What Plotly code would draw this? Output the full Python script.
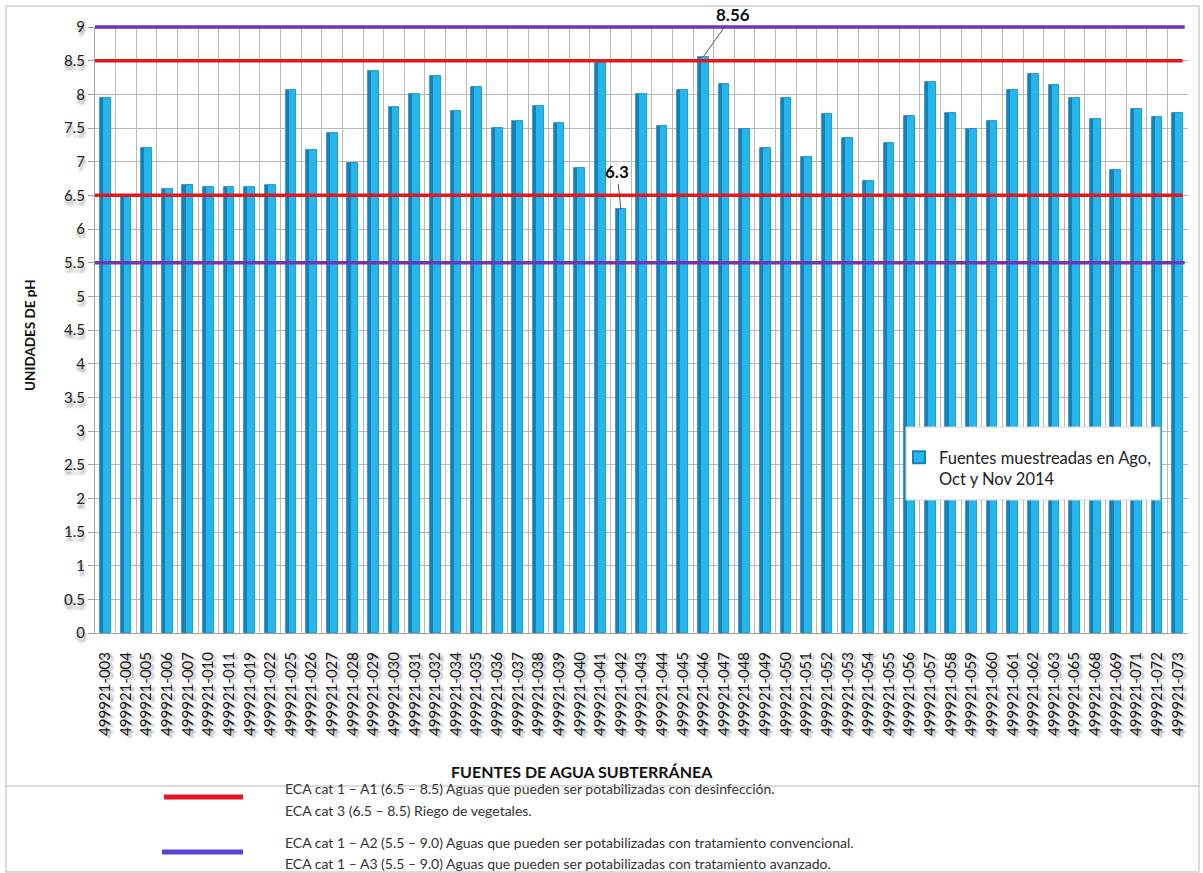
import plotly.graph_objects as go

# Groundwater sources sampled (code suffixes after 499921-)
codes = ["003", "004", "005", "006", "007", "010", "011", "019", "022", "025",
         "026", "027", "028", "029", "030", "031", "032", "034", "035", "036",
         "037", "038", "039", "040", "041", "042", "043", "044", "045", "046",
         "047", "048", "049", "050", "051", "052", "053", "054", "055", "056",
         "057", "058", "059", "060", "061", "062", "063", "065", "068", "069",
         "071", "072", "073"]
sources = ["499921-" + c for c in codes]

ph = [7.95, 6.48, 7.20, 6.60, 6.65, 6.63, 6.63, 6.63, 6.65, 8.06,
      7.17, 7.42, 6.98, 8.35, 7.81, 8.01, 8.27, 7.75, 8.11, 7.50,
      7.60, 7.83, 7.58, 6.90, 8.46, 6.30, 8.00, 7.53, 8.07, 8.56,
      8.15, 7.48, 7.20, 7.95, 7.07, 7.71, 7.35, 6.72, 7.27, 7.68,
      8.18, 7.72, 7.48, 7.61, 8.07, 8.30, 8.14, 7.95, 7.63, 6.87,
      7.78, 7.66, 7.72]

# ECA limits
eca_a1_limits = [6.5, 8.5]      # cat 1 A1 / cat 3
eca_a2a3_limits = [5.5, 9.0]    # cat 1 A2 / A3
labelled_sources = ["499921-046", "499921-042"]

y_range = [0, 9]
y_ticks = [i * 0.5 for i in range(19)]
y_tick_text = [("%g" % v) for v in y_ticks]

legend_a1 = ["ECA cat 1 \u2013 A1 (6.5 \u2013 8.5) Aguas que pueden ser potabilizadas con desinfección.",
             "ECA cat 3 (6.5 \u2013 8.5) Riego de vegetales."]
legend_a2a3 = ["ECA cat 1 \u2013 A2 (5.5 \u2013 9.0) Aguas que pueden ser potabilizadas con tratamiento convencional.",
               "ECA cat 1 \u2013 A3 (5.5 \u2013 9.0) Aguas que pueden ser potabilizadas con tratamiento avanzado."]

RED = "#e3171f"
PURPLE = "#7035b4"
BAR = "#25b6ec"
BAR_DARK = "#1681b8"
FONT = "Lato"

# plot-area geometry in pixels, used to place page-level decorations
L, R, T, B = 95, 1188, 27, 633
W, H = R - L, B - T


def px(x):
    return (x - L) / W


def py(y):
    return (B - y) / H


def yfrac(v):
    # position of a pH value as a fraction of the plot height
    return (v - y_range[0]) / (y_range[1] - y_range[0])


fig = go.Figure()

fig.add_trace(go.Bar(
    x=sources, y=ph, name="Fuentes muestreadas en Ago,<br>Oct y Nov 2014",
    width=0.52, offset=-0.26,
    marker=dict(color=BAR, line=dict(color=BAR_DARK, width=0.8)),
    showlegend=True,
))
# darker left side of each column for a rounded look
fig.add_trace(go.Bar(
    x=sources, y=ph, width=0.15, offset=-0.26,
    marker=dict(color=BAR_DARK, line=dict(width=0)),
    showlegend=False, hoverinfo="skip",
))

shapes = []
for v in eca_a1_limits:
    shapes.append(dict(type="line", xref="paper", yref="paper", x0=0, x1=0.995,
                       y0=yfrac(v), y1=yfrac(v),
                       line=dict(color=RED, width=3.5), layer="above"))
for v in eca_a2a3_limits:
    shapes.append(dict(type="line", xref="paper", yref="paper", x0=0, x1=0.997,
                       y0=yfrac(v), y1=yfrac(v),
                       line=dict(color=PURPLE, width=3.5), layer="above"))

# outer frame and separator of the explanatory key
shapes.append(dict(type="rect", xref="paper", yref="paper", x0=px(6), x1=px(1199),
                   y0=py(872), y1=py(6), line=dict(color="#d0d0d0", width=1.5), layer="below"))
shapes.append(dict(type="line", xref="paper", yref="paper", x0=px(6), x1=px(1199),
                   y0=py(786), y1=py(786), line=dict(color="#d0d0d0", width=1.5)))
# key swatches
shapes.append(dict(type="line", xref="paper", yref="paper", x0=px(164), x1=px(243),
                   y0=py(797), y1=py(797), line=dict(color=RED, width=5)))
shapes.append(dict(type="line", xref="paper", yref="paper", x0=px(162), x1=px(243),
                   y0=py(852), y1=py(852), line=dict(color="#5b40d6", width=5)))
# white panel behind the series legend
shapes.append(dict(type="rect", xref="paper", yref="paper", x0=px(906), x1=px(1160),
                   y0=py(500), y1=py(427), fillcolor="white",
                   line=dict(color="#d6d6d6", width=1), layer="above"))

annotations = []
# value call-outs
i46 = sources.index(labelled_sources[0])
annotations.append(dict(x=sources[i46], y=ph[i46], xref="x", yref="y", text="<b>%g</b>" % ph[i46],
                        showarrow=True, arrowhead=0, arrowwidth=1, arrowcolor="#555555",
                        ax=30, ay=-42, font=dict(family=FONT, size=17, color="#111111")))
i42 = sources.index(labelled_sources[1])
annotations.append(dict(x=sources[i42], y=ph[i42], xref="x", yref="y", text="<b>%g</b>" % ph[i42],
                        showarrow=True, arrowhead=0, arrowwidth=1, arrowcolor="#555555",
                        ax=-4, ay=-37, font=dict(family=FONT, size=17, color="#111111")))

# axis titles
annotations.append(dict(x=px(30), y=py(335), xref="paper", yref="paper", text="<b>UNIDADES DE pH</b>",
                        textangle=-90, xanchor="center", yanchor="middle", showarrow=False,
                        font=dict(family=FONT, size=13.5, color="#111111")))
annotations.append(dict(x=px(582), y=py(771), xref="paper", yref="paper",
                        text="<b>FUENTES DE AGUA SUBTERRÁNEA</b>", xanchor="center", yanchor="middle",
                        showarrow=False, font=dict(family=FONT, size=16, color="#111111")))

# key text
for txt, yy in zip(legend_a1 + legend_a2a3, [788, 810, 842, 864]):
    annotations.append(dict(x=px(283), y=py(yy), xref="paper", yref="paper", text=txt,
                            xanchor="left", yanchor="middle", showarrow=False,
                            font=dict(family=FONT, size=14, color="#333333")))

fig.update_layout(
    width=1203, height=873,
    margin=dict(l=L, r=1203 - R, t=T, b=873 - B),
    paper_bgcolor="white", plot_bgcolor="white",
    barmode="overlay", bargap=0,
    shapes=shapes, annotations=annotations,
    showlegend=True,
    legend=dict(x=px(899), y=py(440), xanchor="left", yanchor="top",
                bgcolor="rgba(0,0,0,0)", borderwidth=0,
                font=dict(family=FONT, size=16.5, color="#222222"), valign="top",
                itemsizing="constant"),
    xaxis=dict(type="category", tickson="boundaries", showgrid=True, gridcolor="#b9b9b9",
               gridwidth=1, tickangle=-90, ticks="", ticklabelstandoff=12,
               tickfont=dict(family=FONT, size=15, color="#111111",
                             shadow="-2px 3px 2px rgba(0,0,0,0.35)"),
               showline=True, linecolor="#a0a0a0", mirror=False, range=[-0.5, len(sources) - 0.5]),
    yaxis=dict(range=y_range, tickvals=y_ticks, ticktext=y_tick_text, showgrid=True,
               gridcolor="#b9b9b9", gridwidth=1, ticks="outside", ticklen=6, tickcolor="#a0a0a0",
               tickfont=dict(family=FONT, size=15, color="#222222",
                             shadow="1px 4px 3px rgba(0,0,0,0.45)"),
               showline=True, linecolor="#a0a0a0", zeroline=False),
)

fig.write_html("out.html")
